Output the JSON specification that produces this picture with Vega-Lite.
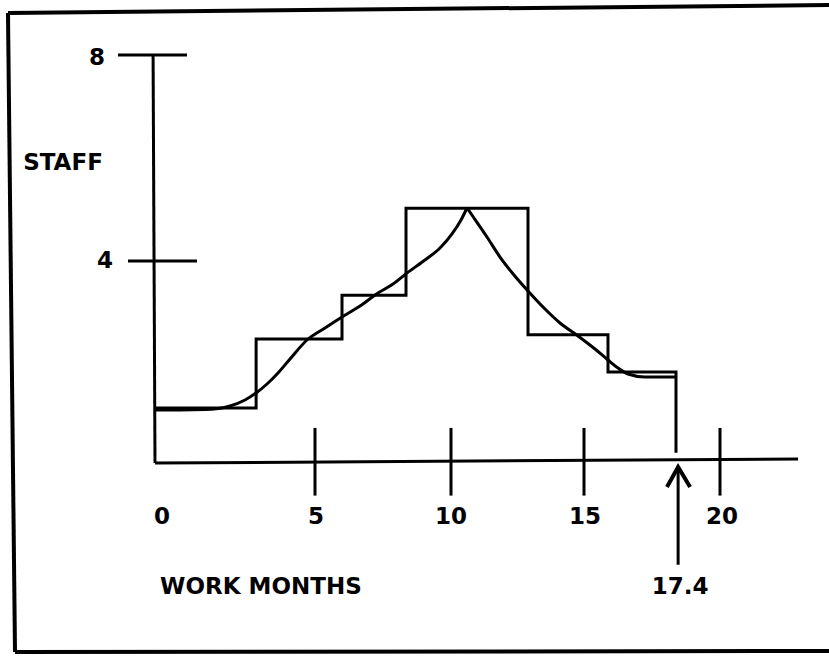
{
  "$schema": "https://vega.github.io/schema/vega-lite/v6.json",
  "width": 829,
  "height": 656,
  "autosize": {"type": "none"},
  "padding": 0,
  "background": "white",
  "config": {"view": {"stroke": null}},
  "datasets": {
    "frame": [
      {"xa": -4.594, "ya": 8.826, "xb": -4.375, "yb": -3.735},
      {"xa": -4.594, "ya": 8.826, "xb": 24.2, "yb": 8.983},
      {"xa": -4.375, "ya": -3.735, "xb": 24.2, "yb": -3.715}
    ],
    "axes": [
      {"xa": -0.06, "ya": 8.0, "xb": 0, "yb": -0.02},
      {"xa": 0, "ya": -0.02, "xb": 22.87, "yb": 0.059},
      {"xa": -1.156, "ya": 8.0, "xb": 1.0, "yb": 8.0},
      {"xa": -0.844, "ya": 3.95, "xb": 1.3125, "yb": 3.95},
      {"xa": 5, "ya": 0.67, "xb": 5, "yb": -0.66},
      {"xa": 10, "ya": 0.67, "xb": 10, "yb": -0.66},
      {"xa": 15, "ya": 0.67, "xb": 15, "yb": -0.66},
      {"xa": 20, "ya": 0.67, "xb": 20, "yb": -0.66},
      {"xa": 18.46, "ya": -2.02, "xb": 18.46, "yb": -0.16}
    ],
    "arrowhead": [
      {"i": 0, "month": 18.05, "staff": -0.49},
      {"i": 1, "month": 18.46, "staff": -0.098},
      {"i": 2, "month": 18.9, "staff": -0.49}
    ],
    "steps": [
      {"i": 0, "month": 0, "staff": 1.06},
      {"i": 1, "month": 3.16, "staff": 1.06},
      {"i": 2, "month": 3.16, "staff": 2.42},
      {"i": 3, "month": 5.993, "staff": 2.42},
      {"i": 4, "month": 5.993, "staff": 3.28},
      {"i": 5, "month": 8.346, "staff": 3.28},
      {"i": 6, "month": 8.346, "staff": 4.99},
      {"i": 7, "month": 12.895, "staff": 4.99},
      {"i": 8, "month": 12.895, "staff": 2.5},
      {"i": 9, "month": 15.882, "staff": 2.5},
      {"i": 10, "month": 15.882, "staff": 1.77},
      {"i": 11, "month": 18.382, "staff": 1.77},
      {"i": 12, "month": 18.382, "staff": 0.18}
    ],
    "curve": [
      {"seg": "rise", "month": 0, "staff": 1.022},
      {"seg": "rise", "month": 0.781, "staff": 1.022},
      {"seg": "rise", "month": 1.5625, "staff": 1.03},
      {"seg": "rise", "month": 2.344, "staff": 1.101},
      {"seg": "rise", "month": 2.8125, "staff": 1.219},
      {"seg": "rise", "month": 3.156, "staff": 1.356},
      {"seg": "rise", "month": 3.5, "staff": 1.533},
      {"seg": "rise", "month": 3.844, "staff": 1.749},
      {"seg": "rise", "month": 4.219, "staff": 2.025},
      {"seg": "rise", "month": 4.75, "staff": 2.398},
      {"seg": "rise", "month": 5.368, "staff": 2.634},
      {"seg": "rise", "month": 5.993, "staff": 2.85},
      {"seg": "rise", "month": 6.654, "staff": 3.066},
      {"seg": "rise", "month": 7.316, "staff": 3.322},
      {"seg": "rise", "month": 7.868, "staff": 3.499},
      {"seg": "rise", "month": 8.382, "staff": 3.715},
      {"seg": "rise", "month": 9.044, "staff": 3.971},
      {"seg": "rise", "month": 9.596, "staff": 4.206},
      {"seg": "rise", "month": 10.038, "staff": 4.482},
      {"seg": "rise", "month": 10.376, "staff": 4.757},
      {"seg": "rise", "month": 10.602, "staff": 4.993},
      {"seg": "fall", "month": 10.602, "staff": 4.993},
      {"seg": "fall", "month": 10.865, "staff": 4.796},
      {"seg": "fall", "month": 11.353, "staff": 4.423},
      {"seg": "fall", "month": 11.842, "staff": 4.029},
      {"seg": "fall", "month": 12.368, "staff": 3.676},
      {"seg": "fall", "month": 12.895, "staff": 3.361},
      {"seg": "fall", "month": 13.534, "staff": 3.007},
      {"seg": "fall", "month": 14.098, "staff": 2.732},
      {"seg": "fall", "month": 14.774, "staff": 2.477},
      {"seg": "fall", "month": 15.404, "staff": 2.221},
      {"seg": "fall", "month": 15.882, "staff": 2.005},
      {"seg": "fall", "month": 16.25, "staff": 1.848},
      {"seg": "fall", "month": 16.618, "staff": 1.73},
      {"seg": "fall", "month": 17.243, "staff": 1.671},
      {"seg": "fall", "month": 18.382, "staff": 1.671}
    ],
    "labels": [
      {"tx": -1.8125, "ty": 7.94, "label": "8"},
      {"tx": -1.5625, "ty": 3.95, "label": "4"},
      {"tx": -2.875, "ty": 5.88, "label": "STAFF"},
      {"tx": 0.22, "ty": -1.08, "label": "0"},
      {"tx": 5.04, "ty": -1.08, "label": "5"},
      {"tx": 10.0, "ty": -1.08, "label": "10"},
      {"tx": 15.04, "ty": -1.08, "label": "15"},
      {"tx": 20.07, "ty": -1.08, "label": "20"},
      {"tx": 3.31, "ty": -2.457, "label": "WORK MONTHS"},
      {"tx": 18.53, "ty": -2.457, "label": "17.4"}
    ]
  },
  "layer": [
    {
      "data": {"name": "frame"},
      "mark": {"type": "rule", "color": "black", "strokeWidth": 4},
      "encoding": {
        "x": {"field": "xa", "type": "quantitative", "axis": null,
              "scale": {"type": "linear", "domain": [0, 5, 10, 15, 20], "range": [155, 315, 451, 584, 720], "nice": false, "zero": false}},
        "y": {"field": "ya", "type": "quantitative", "axis": null,
              "scale": {"type": "linear", "domain": [0, 8], "range": [462, 55], "nice": false, "zero": false}},
        "x2": {"field": "xb"},
        "y2": {"field": "yb"}
      }
    },
    {
      "data": {"name": "axes"},
      "mark": {"type": "rule", "color": "black", "strokeWidth": 3},
      "encoding": {
        "x": {"field": "xa", "type": "quantitative", "axis": null},
        "y": {"field": "ya", "type": "quantitative", "axis": null},
        "x2": {"field": "xb"},
        "y2": {"field": "yb"}
      }
    },
    {
      "data": {"name": "arrowhead"},
      "mark": {"type": "line", "color": "black", "strokeWidth": 4, "strokeJoin": "miter"},
      "encoding": {
        "x": {"field": "month", "type": "quantitative", "axis": null},
        "y": {"field": "staff", "type": "quantitative", "axis": null},
        "order": {"field": "i"}
      }
    },
    {
      "data": {"name": "steps"},
      "mark": {"type": "line", "color": "black", "strokeWidth": 3, "interpolate": "linear"},
      "encoding": {
        "x": {"field": "month", "type": "quantitative", "axis": null},
        "y": {"field": "staff", "type": "quantitative", "axis": null},
        "order": {"field": "i"}
      }
    },
    {
      "data": {"name": "curve"},
      "mark": {"type": "line", "color": "black", "strokeWidth": 3, "interpolate": "monotone"},
      "encoding": {
        "x": {"field": "month", "type": "quantitative", "axis": null},
        "y": {"field": "staff", "type": "quantitative", "axis": null},
        "detail": {"field": "seg"}
      }
    },
    {
      "data": {"name": "labels"},
      "mark": {"type": "text", "color": "black", "font": "DejaVu Sans", "fontWeight": "bold", "fontSize": 23, "align": "center", "baseline": "middle"},
      "encoding": {
        "x": {"field": "tx", "type": "quantitative", "axis": null},
        "y": {"field": "ty", "type": "quantitative", "axis": null},
        "text": {"field": "label"}
      }
    }
  ]
}
